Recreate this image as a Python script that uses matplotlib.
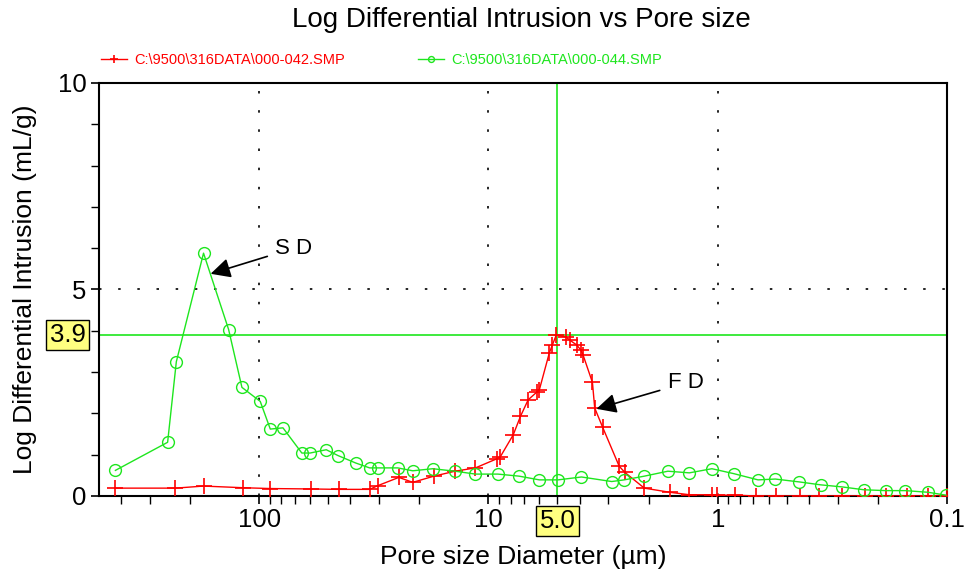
import matplotlib
matplotlib.use("Agg")
import matplotlib.pyplot as plt
from matplotlib.ticker import FixedLocator, NullFormatter
from matplotlib.transforms import blended_transform_factory

# Sample 000-042 (F D)
red_size = [424, 232, 175, 117.8, 89.5, 59.5, 45.1, 33, 30.4, 24.6, 21.4, 17.3,
            14, 11.4, 9.2, 8.9, 7.8, 7.25, 6.71, 6.17, 6.0, 5.43, 5.26, 5.06,
            4.59, 4.41, 4.13, 3.96, 3.87, 3.52, 3.44, 3.18, 2.69, 2.54, 2.09,
            1.62, 1.33, 1.06, 1.01, 0.838, 0.68, 0.555, 0.438, 0.36, 0.287,
            0.228, 0.185, 0.15, 0.121, 0.1]
red_val = [0.19, 0.19, 0.24, 0.20, 0.18, 0.17, 0.16, 0.16, 0.25, 0.45, 0.33, 0.48,
           0.60, 0.68, 0.90, 0.94, 1.48, 1.93, 2.33, 2.51, 2.57, 3.46, 3.66, 3.90,
           3.85, 3.77, 3.66, 3.54, 3.42, 2.75, 2.13, 1.67, 0.72, 0.57, 0.19,
           0.09, 0.03, 0.03, 0.02, 0.02, 0.0, 0.0, 0.0, 0.0, 0.0,
           0.0, 0.0, 0.0, 0.0, 0.0]

# Sample 000-044 (S D)
green_size = [424, 251, 230, 175, 136, 119, 99, 89.5, 78.8, 65.2, 60, 51, 45.4,
              38, 33, 30.2, 24.9, 21.4, 17.5, 14, 11.4, 9.1, 7.35, 6.0, 4.97,
              3.93, 2.9, 2.56, 2.09, 1.65, 1.33, 1.06, 0.85, 0.667, 0.561, 0.44,
              0.356, 0.287, 0.23, 0.185, 0.152, 0.121, 0.101]
green_val = [0.62, 1.30, 3.25, 5.88, 4.03, 2.63, 2.29, 1.62, 1.65, 1.04, 1.04, 1.12,
             0.98, 0.80, 0.68, 0.68, 0.68, 0.61, 0.66, 0.60, 0.53, 0.53, 0.48,
             0.39, 0.39, 0.46, 0.35, 0.39, 0.48, 0.60, 0.56, 0.66, 0.54, 0.39,
             0.41, 0.34, 0.27, 0.22, 0.15, 0.13, 0.13, 0.09, 0.02]

red_label = "C:\\9500\\316DATA\\000-042.SMP"
green_label = "C:\\9500\\316DATA\\000-044.SMP"
cursor_x = 5.0
cursor_y = 3.9

RED = "#ff0000"
GREEN = "#1ee61e"

plt.rcParams['font.family'] = ['Liberation Sans', 'DejaVu Sans']

fig = plt.figure(figsize=(9.65, 5.72), dpi=100)
ax = fig.add_axes([0.1026, 0.1329, 0.8787, 0.722])

ax.plot(red_size, red_val, color=RED, lw=1.0, marker='+', ms=11, mew=1.2,
        label=red_label, zorder=3)
ax.plot(green_size, green_val, color=GREEN, lw=1.0, marker='o', ms=8.5,
        mfc='none', mec=GREEN, mew=1.0, label=green_label, zorder=3)

ax.set_xscale('log')
ax.set_xlim(500, 0.1)
ax.set_ylim(0, 10)

# dotted reference grid
dots = (0, (1.5, 10))
for xv in [100, 10, 1]:
    ax.axvline(xv, color='black', lw=1.2, ls=dots, zorder=1)
ax.axhline(5, color='black', lw=1.2, ls=dots, zorder=1)

# cursor crosshair
ax.axvline(cursor_x, color=GREEN, lw=1.2, zorder=2)
ax.axhline(cursor_y, color=GREEN, lw=1.2, zorder=2)

ax.xaxis.set_major_locator(FixedLocator([100, 10, 1, 0.1]))
ax.set_xticklabels(['100', '10', '1', '0.1'])
minors = [m * 10.0 ** e for e in range(-1, 3) for m in range(2, 10)]
ax.xaxis.set_minor_locator(FixedLocator([v for v in minors if 0.1 < v < 500]))
ax.xaxis.set_minor_formatter(NullFormatter())
ax.yaxis.set_major_locator(FixedLocator([0, 5, 10]))
ax.yaxis.set_minor_locator(FixedLocator([1, 2, 3, 4, 6, 7, 8, 9]))
ax.tick_params(which='major', direction='out', length=6, width=1.2,
               labelsize=18.5, pad=3)
ax.tick_params(which='minor', direction='out', length=6, width=1.0)
for s in ax.spines.values():
    s.set_linewidth(1.5)

# highlighted cursor values
bbox = dict(boxstyle='square,pad=0.12', fc='#ffff80', ec='black', lw=1.0)
ax.text(-0.016, cursor_y, f"{cursor_y:.1f}", fontsize=18.5, ha='right', va='center',
        transform=blended_transform_factory(ax.transAxes, ax.transData), bbox=bbox)
ax.text(cursor_x, -0.032, f"{cursor_x:.1f}", fontsize=18.5, ha='center', va='top',
        transform=blended_transform_factory(ax.transData, ax.transAxes), bbox=bbox)

ax.set_xlabel("Pore size Diameter (µm)", fontsize=19, labelpad=9)
ax.set_ylabel("Log Differential Intrusion (mL/g)", fontsize=19, labelpad=15)
fig.text(0.54, 0.965, "Log Differential Intrusion vs Pore size", fontsize=20,
         ha='center', va='center')

# annotations
arrow = dict(arrowstyle='-|>', color='black', lw=1.2, mutation_scale=30,
             shrinkA=4, shrinkB=0)
ax.annotate("S D", xy=(163, 5.38), xytext=(85, 6.0), fontsize=16, va='center',
            arrowprops=arrow)
ax.annotate("F D", xy=(3.38, 2.11), xytext=(1.65, 2.74), fontsize=16, va='center',
            arrowprops=arrow)

leg = ax.legend(loc='lower left', bbox_to_anchor=(-0.005, 1.025), ncol=2, frameon=False,
                fontsize=10.5, handlelength=1.8, markerscale=0.5, columnspacing=5.0,
                labelcolor='linecolor', borderaxespad=0, handletextpad=0.5)

fig.savefig("out.png", dpi=100)
